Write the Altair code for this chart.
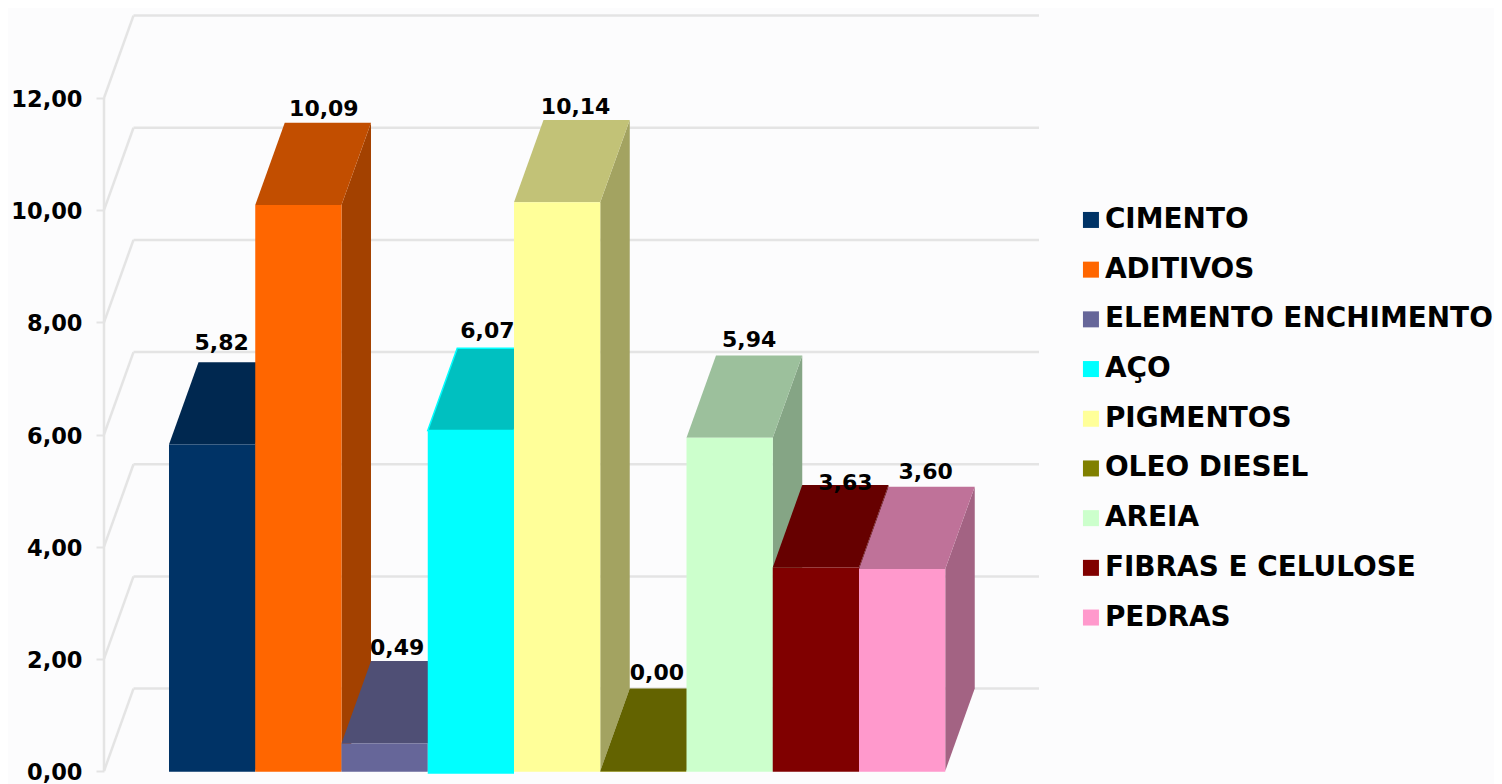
import altair as alt
import pandas as pd

SERIES = ["CIMENTO", "ADITIVOS", "ELEMENTO ENCHIMENTO", "AÇO", "PIGMENTOS",
          "OLEO DIESEL", "AREIA", "FIBRAS E CELULOSE", "PEDRAS"]
VALUES = [5.82, 10.09, 0.49, 6.07, 10.14, 0.00, 5.94, 3.63, 3.60]
LABELS = ["5,82", "10,09", "0,49", "6,07", "10,14", "0,00", "5,94", "3,63", "3,60"]
FRONT = ["#003366", "#FF6600", "#666699", "#00FFFF", "#FFFF99", "#808000", "#CCFFCC", "#800000", "#FF99CC"]
TOP = ["#002850", "#C24E00", "#4F4F75", "#00C0C0", "#C2C277", "#636300", "#9CC09C", "#660000", "#BF7299"]
SIDE = ["#002142", "#A34100", "#424262", "#00A3A3", "#A3A361", "#525200", "#85A585", "#520000", "#A36383"]
TICKS = [0, 2, 4, 6, 8, 10, 12]

# Pseudo-3D geometry (in data units)
DX, DY = 0.342, 1.47
X_MIN, X_MAX = -0.7536, 10.087
Y_MAX = 13.48
FONT = "DejaVu Sans"
GRID = "#E4E4E4"

# label nudges (pixels)
LDX = [-20, -4, -17, -13, -11, -16, -10, 0, -6]
LDY = [-12, -7, -6, -10, -6, -9, -8, 5, -8]

xs = alt.Scale(domain=[X_MIN, X_MAX], nice=False, zero=False)
ys = alt.Scale(domain=[0, Y_MAX], nice=False, zero=False)
y_axis = alt.Axis(
    values=TICKS, domain=False, grid=False, tickColor=GRID, tickSize=8, tickWidth=2,
    labelFont=FONT, labelFontWeight="bold", labelFontSize=22.5, labelColor="#000000",
    labelPadding=14, labelOffset=1.5, labelExpr="replace(format(datum.value, '.2f'), '.', ',')")
X = alt.X("x:Q", scale=xs, axis=None)
Y = alt.Y("y:Q", scale=ys, title=None, axis=y_axis)
Y2 = alt.Y2("y2:Q")

# back-wall gridlines
back = pd.DataFrame({"x": [X_MIN + DX] * len(TICKS), "x2": [X_MAX] * len(TICKS),
                     "y": [t + DY for t in TICKS]})
layers = [alt.Chart(back).mark_rule(color=GRID, strokeWidth=2.5).encode(X, x2="x2:Q", y=Y)]

# side-wall diagonals
rows = []
for t in TICKS:
    rows += [{"t": t, "x": X_MIN, "y": t}, {"t": t, "x": X_MIN + DX, "y": t + DY}]
layers.append(alt.Chart(pd.DataFrame(rows)).mark_line(color=GRID, strokeWidth=2.5).encode(X, Y, detail="t:N"))

# y axis line
axis_df = pd.DataFrame({"x": [X_MIN], "y": [TICKS[0]], "y2": [TICKS[-1]]})
layers.append(alt.Chart(axis_df).mark_rule(color=GRID, strokeWidth=2.5).encode(X, y=Y, y2=Y2))

color = alt.Color("serie:N", scale=alt.Scale(domain=SERIES, range=FRONT), legend=alt.Legend(
    title=None, orient="none", legendX=973, legendY=191, symbolType="square", symbolSize=256,
    symbolStrokeWidth=0, labelFont=FONT, labelFontWeight="bold", labelFontSize=27.9,
    labelColor="#000000", rowPadding=20.7, labelLimit=600, labelOffset=0, padding=0))

for i, (name, v) in enumerate(zip(SERIES, VALUES)):
    x0, x1 = i, i + 1
    side = pd.DataFrame({"x": [x1, x1 + DX], "y": [v, v + DY], "y2": [0, DY]})
    top = pd.DataFrame({"x": [x0, x0 + DX, x1, x1 + DX],
                        "y": [v, v + DY, v + DY, v + DY],
                        "y2": [v, v, v, v + DY]})
    base = -0.05 if name == "AÇO" else -0.015
    front = pd.DataFrame({"x": [x0], "x2": [x1], "y": [v], "y2": [base], "serie": [name]})
    layers.append(alt.Chart(side).mark_area(color=SIDE[i]).encode(X, Y, Y2))
    top_mark = {"color": TOP[i]}
    if name == "AÇO":
        top_mark.update(stroke="#00FFFF", strokeWidth=1.5)
    layers.append(alt.Chart(top).mark_area(**top_mark).encode(X, Y, Y2))
    layers.append(alt.Chart(front).mark_rect().encode(X, x2="x2:Q", y=Y, y2=Y2, color=color))

for i, (v, lab) in enumerate(zip(VALUES, LABELS)):
    d = pd.DataFrame({"x": [i + 0.5 + DX], "y": [v + DY], "t": [lab]})
    layers.append(alt.Chart(d).mark_text(
        font=FONT, fontWeight="bold", fontSize=22, color="#000000", align="center",
        baseline="alphabetic", dx=LDX[i], dy=LDY[i]).encode(X, Y, text="t:N"))

chart = alt.layer(*layers).properties(
    width=935, height=756, background="#FCFCFD",
    autosize=alt.AutoSizeParams(type="none"),
    padding={"left": 96, "top": 7, "right": 455, "bottom": 13},
).configure_view(stroke=None)

chart.save("out.html", embed_options={"renderer": "svg", "actions": False})
